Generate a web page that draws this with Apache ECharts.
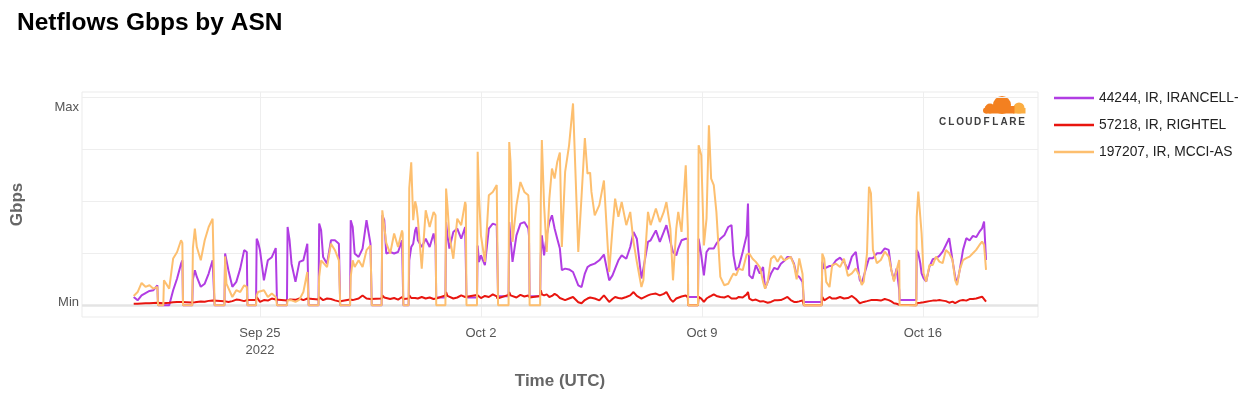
<!DOCTYPE html>
<html lang="en">
  <head>
    <meta charset="UTF-8" />
    <title>Netflows Gbps by ASN</title>
    <script src="https://cdn.jsdelivr.net/npm/echarts@6/dist/echarts.min.js"></script>
    <style>
      html, body { margin: 0; padding: 0; background: #fff; }
      #main { width: 1251px; height: 397px; }
    </style>
  </head>

  <body>
    <div id="main"></div>
    <script type="text/javascript">
      // hours since 2022-09-21 00:00 UTC, one line per day
      var hours = [
        0, 3, 6, 9, 12, 15, 18, 18.5, 22.5, 23,
        24, 27, 30, 33, 36, 37, 37.5, 44.5, 45, 46.5,
        48, 51, 54, 57, 60, 61, 61.5, 69, 69.5, 70.5,
        72, 75, 78, 81, 84, 86, 86.5, 93, 93.5, 94.5,
        96, 99, 102, 105, 108, 108.5, 109, 116.5, 117, 118.5,
        120, 123, 126, 129, 132, 132.5, 133, 140.5, 141, 142.5,
        144, 147, 150, 153, 156, 156.5, 157, 164.5, 165, 166.5,
        168, 171, 174, 177, 180, 180.5, 181, 188.5, 189, 190.5,
        192, 195, 198, 201, 204, 204.5, 205, 209, 209.5, 211, 212.5, 214, 215,
        216, 219, 222, 225, 228, 229.5, 230, 237, 237.5, 238.5,
        240, 243, 246, 249, 252, 252.5, 253, 261, 261.5, 262.5,
        264, 267, 270, 273, 276, 276.5, 277, 285, 285.5, 286.5,
        288, 291, 294, 297, 300, 300.5, 301, 309, 309.5, 310.3,
        312, 314, 316, 318, 320, 322, 324, 325.5, 328, 331, 334,
        338, 340.5, 343, 345, 347, 348, 350.5, 354, 357.5,
        361.5, 364, 366, 368.5, 371, 374.5, 377.5, 380, 382.5,
        386, 387.5, 391, 393, 397, 400, 403, 405,
        408, 410, 412.5, 414, 416.5, 419.7, 421.3, 421.5, 429, 429.5, 431.5,
        433.5, 435.5, 437.3, 439, 441, 443, 446, 449, 452, 454.5,
        456, 458, 460, 463, 466, 467, 468, 470.5, 473, 476, 478.5,
        480, 482, 484.5, 487, 489.5, 492, 494.5, 497, 499.5, 502,
        504, 506, 508.5, 509.5, 523, 523.5, 525, 526.5,
        529, 531, 534, 537, 540, 543, 546, 549,
        552, 553.5, 555, 557.5, 559, 560.5, 562, 565, 568, 571, 574,
        576, 578, 580, 582, 582.3, 595, 595.3, 596.5, 598, 599,
        600.5, 602.5, 605, 607.5, 610, 612.5, 615, 617.5, 620, 622.5,
        624.5, 626, 628, 630.5, 633, 635.5, 638, 640.5, 643, 645, 646.5,
        648
      ];

      var irancell = [
        3.2, 1.9, 3.8, 4.7, 5.5, 5.8, 7.7, 0, 0, 0,
        0, 0, 5.8, 10.3, 16, 17.3, 0, 0, 10, 13.5,
        10.9, 7.1, 8.3, 12.2, 17.3, 17.9, 0, 0, 19.9, 17.3,
        13.5, 7.1, 9, 14.1, 21.2, 20.5, 0, 0, 25.6, 24.4,
        21.2, 9.6, 17.3, 18.5, 22, 22, 0, 0, 30.1, 25,
        16, 9, 16.7, 17.3, 23.7, 23.5, 0, 0, 31.4, 28.8,
        18.6, 16, 25, 25, 23.7, 23, 0, 0, 32.7, 30.1,
        19.9, 18.6, 21.8, 32.7, 23.7, 23, 0, 0, 34.6, 32.7,
        19.9, 20.5, 19.9, 20.5, 25, 25, 0, 0, 17.3, 22.4, 23.7, 28.8, 30.1,
        25, 22.4, 25.6, 22.4, 27.6, 23, 3, 3, 32, 26.9,
        21.8, 28.2, 29.5, 25.6, 30.1, 30, 3, 3, 23, 16.7,
        19.2, 15.4, 29.5, 31.4, 30.8, 30.8, 3.5, 3.5, 32, 25.6,
        16.7, 26.9, 31.4, 32, 29.5, 26.9, 3.5, 3.5, 19.2, 26.9,
        19.2, 26.9, 32, 34.6, 29.5, 25.6, 21.8, 13.5, 14.1, 13.8, 12.8,
        7.7, 7, 12.2, 14.7, 15.4, 16, 16, 17.3, 19.5,
        9.6, 11.5, 14.1, 17.3, 19.2, 17.9, 22.4, 28.2, 25.6,
        10.3, 14.1, 24.4, 25, 28.8, 24.4, 28.2, 30.8,
        24.4, 20.5, 19.2, 21.8, 25, 25.6, 25.6, 3.2, 3.2, 25.6, 19.2,
        11.5, 20.5, 21.8, 21.8, 21.8, 23.7, 25.6, 26.9, 30.1, 30.8,
        19.2, 13.5, 14.7, 20.5, 26.9, 39.1, 11.5, 10.3, 15.4, 12.2, 14.7,
        6.4, 9, 12.2, 14.4, 13.8, 16, 17, 18.6, 18.6, 16,
        11.5, 10.9, 9, 1.3, 1.3, 16.7, 14.1, 14.1,
        15.1, 15.1, 17.3, 18.3, 16.7, 13.8, 18.7, 20.5,
        9.7, 8.5, 8.5, 15.5, 18.1, 18.5, 18.1, 20, 20, 21.9, 21.3,
        13.6, 9.7, 14.2, 5.9, 2, 2, 21.3, 20, 16.2, 12.3,
        10.4, 9.1, 14.9, 17.7, 18.1, 19, 20.6, 23.2, 25.8, 17.4,
        11, 8.5, 13.6, 21.3, 25.8, 24.9, 26.7, 26.2, 28.3, 29.6, 32.2,
        17.4
      ];

      var rightel = [
        0.6, 0.6, 0.7, 0.8, 0.8, 0.9, 1.0, 0.9, 0.8, 0.9,
        0.9, 1.0, 1.2, 1.3, 1.3, 1.2, 1.0, 1.1, 1.3, 1.2,
        1.3, 1.5, 1.4, 1.7, 1.8, 1.6, 1.5, 1.6, 2.2, 2.0,
        1.3, 1.6, 2.2, 2.0, 1.6, 2.0, 1.8, 2.0, 3.2, 2.5,
        1.3, 2.0, 1.8, 2.6, 2.2, 2.0, 1.5, 1.8, 1.9, 2.2,
        1.9, 2.1, 2.6, 2.0, 2.6, 2.4, 2.0, 2.2, 3.2, 2.6,
        2.0, 2.6, 2.4, 1.9, 1.5, 1.8, 2.0, 2.2, 2.4, 2.0,
        2.2, 2.6, 3.8, 2.6, 2.4, 2.2, 2.4, 2.6, 3.8, 3.0,
        2.6, 2.4, 2.8, 2.2, 3.2, 3.0, 2.4, 2.6, 3.8, 2.8, 2.6, 2.8, 2.6,
        2.6, 3.2, 2.6, 3.0, 2.4, 2.2, 2.6, 3.8, 5.1, 3.6,
        3.2, 2.6, 3.0, 3.8, 3.2, 2.8, 3.2, 4.0, 4.6, 3.6,
        2.8, 3.6, 3.2, 4.2, 3.4, 2.6, 3.0, 4.0, 5.1, 3.8,
        3.6, 3.0, 4.0, 3.4, 3.8, 3.2, 3.0, 3.6, 5.8, 4.2,
        3.8, 4.2, 3.2, 3.6, 4.4, 3.8, 2.8, 2.4, 2.0, 2.6, 3.2,
        1.2, 0.8, 2.0, 2.6, 3.0, 3.2, 2.6, 1.9, 3.8,
        1.3, 2.4, 3.2, 2.8, 2.6, 3.2, 3.8, 5.1, 3.6,
        2.6, 3.0, 3.8, 4.2, 4.5, 3.8, 4.4, 5.1,
        2.4, 1.3, 2.6, 3.2, 3.4, 3.8, 3.0, 0, 0, 3.2, 2.6,
        1.3, 2.6, 3.2, 3.6, 4.2, 3.6, 3.2, 3.0, 3.6, 2.6,
        1.9, 2.6, 3.2, 3.0, 4.2, 5.1, 2.6, 1.9, 2.2, 1.5, 1.6,
        1.0, 1.0, 1.3, 1.9, 1.9, 2.0, 2.6, 3.2, 2.0, 1.3,
        1.3, 1.5, 1.9, 0, 0, 3.2, 1.9, 2.0,
        3.2, 2.6, 2.6, 3.2, 2.6, 2.8, 3.6, 2.4,
        0.8, 1.0, 1.3, 1.6, 1.6, 2.0, 2.2, 2.0, 1.8, 2.4, 2.0,
        1.5, 0.8, 0.6, 0.2, 0, 0, 0.9, 1.2, 1.0, 1.1,
        1.2, 1.4, 1.6, 1.8, 1.8, 2.0, 1.8, 1.6, 1.0, 1.4,
        0.8, 1.4, 1.8, 2.0, 1.8, 2.4, 2.4, 2.6, 3.0, 3.3, 2.6,
        1.4
      ];

      var mcci = [
        3.6, 5.1, 8.6, 7.1, 7.7, 6.4, 7.1, 0, 0, 9.6,
        9.6, 6.4, 18, 20.5, 25, 24, 0, 0, 22, 29.5,
        22.4, 17.3, 25, 30.1, 33.3, 34, 0, 0, 18.8, 8.3,
        8.3, 3.2, 5.8, 5.1, 7.7, 7.1, 0, 0, 3.8, 5.1,
        4.5, 5.8, 3.2, 4.5, 3.2, 3.0, 0, 0, 1.9, 2.6,
        1.9, 1.3, 2.2, 5.1, 12.8, 13.5, 0, 0, 10.9, 17.3,
        17.3, 14.7, 23.7, 21.2, 17.3, 17.3, 0, 0, 10.9, 17.3,
        14.7, 17.3, 14.7, 21.2, 23, 22.4, 0, 0, 36.5, 35.9,
        24, 19.9, 27.6, 22.4, 28.8, 27.6, 0, 0, 45, 55, 32.7, 40, 37.8,
        33.3, 14.1, 36.5, 30.1, 35.9, 34.6, 0, 0, 44.9, 38.5,
        26.9, 17.9, 33.3, 30.8, 39.7, 38.5, 0, 0, 59, 42.3,
        26.9, 16.7, 42.3, 43.6, 46.2, 46.8, 0, 0, 62.8, 55.1,
        24.4, 38.5, 47.4, 43.6, 42.3, 38.5, 0, 0, 40, 63.5,
        38.5, 20.5, 41, 52.6, 48.7, 55.1, 58.7, 22.4, 51.3, 61.5, 77.6,
        20.5, 42, 64.3, 50.6, 51, 43.6, 34.6, 38.5, 48,
        12.8, 29.5, 41, 34, 39.7, 30.8, 35.9, 24.4, 16.7,
        7, 9.6, 35.9, 30.8, 37.2, 32, 35.9, 39.7,
        29.5, 9.6, 29.5, 35.9, 28.2, 53.8, 29.5, 0, 0, 61.5, 57.7,
        23, 33.3, 69.2, 48.7, 46.2, 35.9, 10.9, 7.7, 8.3, 10.9,
        12.2, 11.5, 14.1, 13.5, 19.5, 19.2, 19.9, 17.9, 16.7, 14.7, 9,
        6.4, 9, 17.9, 19, 16.7, 19, 17.3, 17.9, 18.6, 15.4,
        10, 18, 12, 0, 0, 19.9, 17.9, 9,
        7, 15.4, 16, 14.7, 17.9, 11.3, 12.3, 14.2,
        11, 7.8, 9.1, 20, 45.6, 43.1, 21.3, 16.2, 17.4, 20.6, 18.7,
        13.6, 9.1, 13.6, 17.4, 0, 0, 34, 43.7, 43.7, 27.7,
        12.3, 9.1, 15.5, 15.5, 18.7, 16.8, 16.2, 21.3, 20, 17.4,
        9.7, 7.8, 13.6, 17.4, 18.1, 18.7, 20, 21.3, 23.2, 24.5, 23.2,
        13.6
      ];

      var seriesNames = ["44244, IR, IRANCELL-", "57218, IR, RIGHTEL", "197207, IR, MCCI-AS"];
      var seriesColors = ["#b13de3", "#e8150f", "#fdbf6f"];
      // weekly ticks, in hours since the start
      var weekTicks = [96, 264, 432, 600];
      var weekLabels = ["Sep 25\n2022", "Oct 2", "Oct 9", "Oct 16"];

      function toPairs(values) {
        return hours.map(function (h, i) { return [h, values[i]]; });
      }

      function main() {
        var myChart = echarts.init(document.getElementById("main"));
        var font = "'Liberation Sans', Arial, Helvetica, sans-serif";

        // grid lines drawn under the traces, like plotly does
        var gridLines = [20, 40, 60, 80].map(function (v) { return { yAxis: v }; });
        weekTicks.forEach(function (t) { gridLines.push({ xAxis: t }); });
        gridLines.push({ yAxis: 0, lineStyle: { width: 2.5, color: "#e4e4e4" } });

        // cloudflare mark, top right of the plot
        var logo = [
          { type: "circle", shape: { cx: 1019, cy: 108, r: 5.5 }, style: { fill: "#fbad41" } },
          { type: "rect", shape: { x: 1013, y: 108, width: 12.5, height: 5.5 }, style: { fill: "#fbad41" } },
          { type: "circle", shape: { cx: 1002, cy: 105, r: 9 }, style: { fill: "#f38020" } },
          { type: "circle", shape: { cx: 990, cy: 108.5, r: 5 }, style: { fill: "#f38020" } },
          { type: "rect", shape: { x: 985.5, y: 106, width: 29, height: 7.5 }, style: { fill: "#f38020" } },
          { type: "circle", shape: { cx: 986, cy: 110.5, r: 3 }, style: { fill: "#f38020" } },
        ];
        "CLOUDFLARE".split("").forEach(function (ch, i) {
          logo.push({
            type: "text",
            x: 942.5 + i * 8.8,
            y: 122,
            style: { text: ch, fill: "#404041", font: "bold 10px " + font, align: "center", verticalAlign: "middle" },
          });
        });

        const option = {
          animation: false,
          backgroundColor: "#fff",
          textStyle: { fontFamily: font },
          title: {
            text: "Netflows Gbps by ASN",
            left: 12,
            top: 6,
            textStyle: { fontSize: 24.5, fontWeight: "bold", color: "#000", fontFamily: font },
          },
          legend: {
            orient: "vertical",
            left: 1049,
            top: 85,
            icon: "rect",
            itemWidth: 40,
            itemHeight: 2.5,
            itemGap: 11,
            textStyle: { fontSize: 13.8, lineHeight: 16, color: "#222", fontFamily: font },
            data: seriesNames,
          },
          grid: {
            left: 82,
            right: 213,
            top: 92,
            bottom: 80,
            show: true,
            borderColor: "#ebebeb",
            borderWidth: 1,
          },
          xAxis: {
            type: "value",
            min: -39.3,
            max: 687.5,
            axisLine: { show: false },
            axisTick: { show: false },
            splitLine: { show: false },
            axisLabel: {
              customValues: weekTicks,
              margin: 8,
              fontSize: 13,
              lineHeight: 17,
              color: "#555",
              formatter: function (value) {
                return weekLabels[weekTicks.indexOf(value)] || "";
              },
            },
            name: "Time (UTC)",
            nameLocation: "middle",
            nameGap: 56,
            nameTextStyle: { fontSize: 17, fontWeight: "bold", color: "#666" },
          },
          yAxis: {
            type: "value",
            min: -4.5,
            max: 82,
            axisLine: { show: false },
            axisTick: { show: false },
            splitLine: { show: false },
            axisLabel: {
              customValues: [1, 76],
              margin: 3,
              fontSize: 13,
              color: "#555",
              formatter: function (v) { return v < 40 ? "Min" : "Max"; },
            },
            name: "Gbps",
            nameLocation: "middle",
            nameGap: 56,
            nameTextStyle: { fontSize: 17, fontWeight: "bold", color: "#666" },
          },
          graphic: logo,
          series: [
            {
              type: "line",
              data: [],
              silent: true,
              z: 1,
              markLine: {
                silent: true,
                z: 1,
                symbol: ["none", "none"],
                label: { show: false },
                lineStyle: { color: "#eeeeee", width: 1, type: "solid" },
                emphasis: { disabled: true },
                data: gridLines,
              },
            },
            {
              name: seriesNames[0],
              type: "line",
              data: toPairs(irancell),
              showSymbol: false,
              z: 3,
              lineStyle: { width: 2, color: seriesColors[0] },
              itemStyle: { color: seriesColors[0] },
            },
            {
              name: seriesNames[1],
              type: "line",
              data: toPairs(rightel),
              showSymbol: false,
              z: 4,
              lineStyle: { width: 2, color: seriesColors[1] },
              itemStyle: { color: seriesColors[1] },
            },
            {
              name: seriesNames[2],
              type: "line",
              data: toPairs(mcci),
              showSymbol: false,
              z: 5,
              lineStyle: { width: 2, color: seriesColors[2] },
              itemStyle: { color: seriesColors[2] },
            },
          ],
        };
        myChart.setOption(option);
      }

      main();
    </script>
  </body>
</html>
